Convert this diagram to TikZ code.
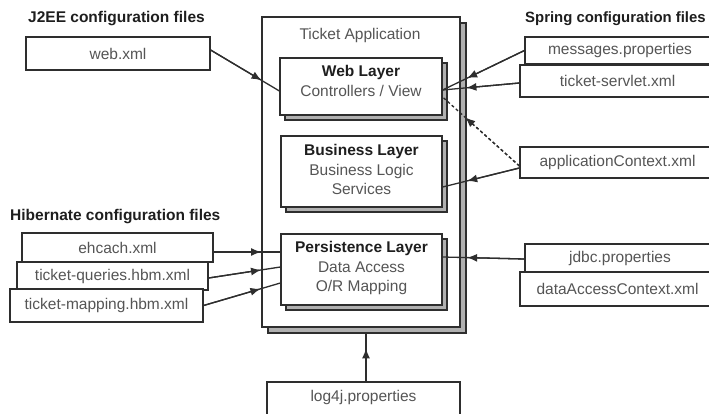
\documentclass[tikz,border=0pt]{standalone}
\usepackage{fontspec}
\setmainfont{Liberation Sans}
\usetikzlibrary{shadows,calc,arrows.meta}
\definecolor{ln}{HTML}{2E2E2E}
\definecolor{tx}{HTML}{555555}
\definecolor{hd}{HTML}{1E1E1E}
\definecolor{sh}{HTML}{B0B0B0}
\tikzset{
  filebox/.style={draw=ln, line width=1.2pt, fill=white, inner sep=0pt, text=tx,
    font=\fontsize{15.5}{19.5}\selectfont},
  layer/.style={filebox, copy shadow={shadow xshift=5pt, shadow yshift=-5pt, fill=sh, draw=ln, line width=1.2pt}},
  appbox/.style={filebox, copy shadow={shadow xshift=6pt, shadow yshift=-6pt, fill=sh, draw=ln, line width=1.2pt}},
  heading/.style={font=\bfseries\fontsize{15.5}{19}\selectfont, text=hd, inner sep=0pt, anchor=west},
  conn/.style={draw=ln, line width=1.3pt},
  tipconn/.style={conn, -{Latex[length=10pt,width=8pt]}}
}
\newcommand{\lyr}[3][0pt]{\raisebox{#1}[\height][\depth]{\begin{tabular}{@{}c@{}}{\color{hd}\bfseries #2}\\#3\end{tabular}}}
% \linkarr[opts]{source}{target}{fraction}
\newcommand{\linkarr}[4][]{%
  \draw[conn,#1] (#2) -- (#3);
  \draw[tipconn,#1] (#2) -- ($(#2)!#4!(#3)$);}
\begin{document}
\begin{tikzpicture}[x=1pt,y=-1pt]
\useasboundingbox (0,0) rectangle (709,414);
\clip (0,0) rectangle (709,414);
\fill[white] (0,0) rectangle (709,414);

% headings
\node[heading] (hj2ee) at (28,19) {J2EE configuration files};
\node[heading, font=\bfseries\fontsize{14.9}{19}\selectfont] (hspring) at (525,19) {Spring configuration files};
\node[heading] (hhib) at (10,217) {Hibernate configuration files};

% application
\node[appbox, minimum width=198, minimum height=310] (app) at (361,172) {};
\node[text=tx, font=\fontsize{15.5}{19}\selectfont, inner sep=0pt] (apptitle) at (360,35) {Ticket Application};
\node[layer, minimum width=162, minimum height=57] (web) at (361,86.5)
  {\lyr[4pt]{Web Layer}{Controllers / View}};
\node[layer, minimum width=161, minimum height=71] (bus) at (361.5,171.5)
  {\lyr{Business Layer}{Business Logic\\Services}};
\node[layer, minimum width=161, minimum height=71] (per) at (361.5,269.5)
  {\lyr[1pt]{Persistence Layer}{Data Access\\O/R Mapping}};

% J2EE
\node[filebox, minimum width=184, minimum height=33] (webxml) at (118,53.5) {web.xml};

% Spring
\node[filebox, minimum width=190, minimum height=27] (msg) at (620,50.5) {\raisebox{1pt}{messages.properties}};
\node[filebox, minimum width=195, minimum height=32] (servlet) at (617.5,81) {\raisebox{1pt}{ticket-servlet.xml}};
\node[filebox, minimum width=195, minimum height=31] (appctx) at (617.5,162.5) {applicationContext.xml};
\node[filebox, minimum width=190, minimum height=28] (jdbc) at (620,258) {jdbc.properties};
\node[filebox, minimum width=195, minimum height=34] (dac) at (617.5,289) {dataAccessContext.xml};

% Hibernate
\node[filebox, minimum width=191, minimum height=29] (ehcach) at (117.5,247.5) {\raisebox{-2pt}{ehcach.xml}};
\node[filebox, minimum width=191, minimum height=28] (queries) at (112.5,276) {ticket-queries.hbm.xml};
\node[filebox, minimum width=193, minimum height=33] (mapping) at (106.5,305.5) {ticket-mapping.hbm.xml};

% log4j
\node[filebox, minimum width=193, minimum height=36] (log4j) at (363.5,400) {\raisebox{3pt}[\height][\depth]{log4j.properties}};

% connector end points on the named nodes
\coordinate (s1) at ($(webxml.east)+(0,-3.5)$);  \coordinate (t1) at ($(web.west)+(0,4.5)$);
\coordinate (s2) at (msg.west);                  \coordinate (t2) at ($(web.east)+(0,3.5)$);
\coordinate (s3) at ($(servlet.west)+(0,2)$);    \coordinate (t3) at ($(web.east)+(0,3.5)$);
\coordinate (s4) at ($(appctx.west)+(0,3.5)$);   \coordinate (t4) at ($(web.east)+(0,10.5)$);
\coordinate (s5) at ($(appctx.west)+(0,5.5)$);   \coordinate (t5) at ($(bus.east)+(0,15.5)$);
\coordinate (s6) at ($(jdbc.west)+(0,1)$);       \coordinate (t6) at ($(per.east)+(0,-12.5)$);
\coordinate (s7) at ($(ehcach.east)+(0,4.5)$);   \coordinate (t7) at ($(per.west)+(0,-17.5)$);
\coordinate (s8) at ($(queries.east)+(0,2)$);    \coordinate (t8) at ($(per.west)+(0,-2.5)$);
\coordinate (s9) at (mapping.east);              \coordinate (t9) at ($(per.west)+(0,13.5)$);
\coordinate (s10) at ($(log4j.north)+(2.5,0)$);  \coordinate (t10) at ($(app.south)+(5,6)$);

% connectors
\linkarr{s1}{t1}{0.74}
\linkarr{s2}{t2}{0.70}
\linkarr{s3}{t3}{0.69}
\linkarr[dash pattern=on 3pt off 2.5pt]{s4}{t4}{0.705}
\linkarr{s5}{t5}{0.68}
\linkarr{s6}{t6}{0.70}
\linkarr{s7}{t7}{0.71}
\linkarr{s8}{t8}{0.73}
\linkarr{s9}{t9}{0.74}
\linkarr{s10}{t10}{0.69}
\end{tikzpicture}
\end{document}
